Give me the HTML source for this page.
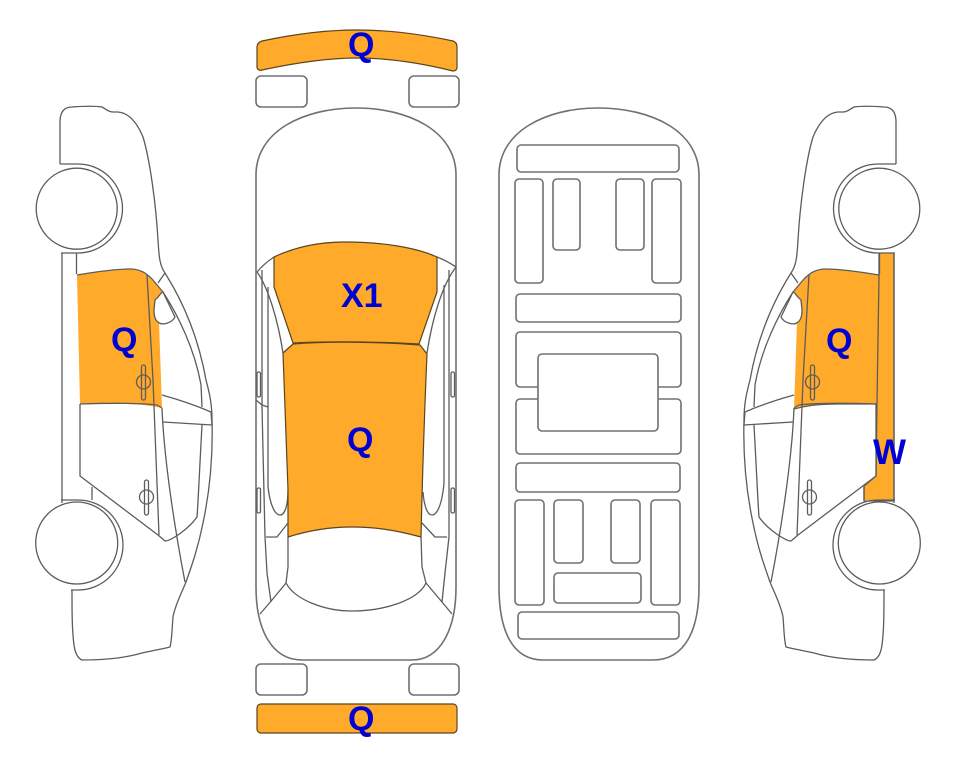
<!DOCTYPE html>
<html><head><meta charset="utf-8"><style>
html,body{margin:0;padding:0;background:#fff;width:963px;height:768px;overflow:hidden}
svg{display:block;filter:blur(0.3px)}
.l{fill:none;stroke:#5c5c5c;stroke-width:1.3;stroke-linejoin:round}
.r{fill:#fff;stroke:#707070;stroke-width:1.6}
.o{fill:#FFAA2B;stroke:#5a4520;stroke-width:1.2}
.f{fill:#FFAA2B;stroke:none}
text{font-family:"Liberation Sans",sans-serif;font-weight:bold;font-size:34px;fill:#0000D2}
</style></head><body>
<svg width="963" height="768" viewBox="0 0 963 768" xmlns="http://www.w3.org/2000/svg">
<defs>
<g id="side">
<path class="l" d="M60 164V122C60 112 64 107 72 107C85 106 95 106 102 107C106 109 108 112 113 112L118 112C130 113 138 125 143 137C150 160 156 205 158 240C159 258 160 266 165 273C182 300 198 335 206 380C210 395 212 405 212 420C213 455 210 490 203 523C198 548 192 565 186 582C182 592 175 605 173 617C172 628 172 640 170 647C158 650 150 651 142 653C125 658 105 660 82 660C77 658 75 652 74 645C72 630 72 612 72 590"/>
<path class="l" d="M60 164H78A44.500 44.500 0 0 1 78 253H61"/>
<circle class="l" style="fill:#fff" cx="76.700" cy="208.700" r="40.500"/>
<path class="l" d="M62 253V503M76.500 253V274"/>
<path class="l" d="M61 500H78A45 45 0 0 1 78 590H71"/>
<circle class="l" style="fill:#fff" cx="76.700" cy="543" r="41"/>
<path class="l" d="M92 487V500"/>
<path class="l" d="M77 275C95 272 115 269 130 269C140 269 146 273 152 279L163 292"/>
<path class="l" d="M80 404V476L158 535L165 541C170 541 188 530 197 517C198 505 199 480 202 425"/>
<path class="l" d="M147 275L153 380L159 535"/>
<path class="l" d="M80 404C110 403 140 403 157 405L162 408"/>
<path class="l" d="M165 273L158 283M163 292C178 315 195 350 201 385L202 407"/>
<path class="l" d="M162 395C180 400 195 405 211 412L212 425L163 422"/>
<path class="l" d="M162 408C164 460 175 530 185 582"/>
<path class="l" style="fill:#fff" d="M155 300C160 296 160 293 163 292L175 317C172 323 162 326 158 322C155 320 154 316 154 310Z"/>
<rect class="l" x="141.500" y="365" width="4" height="35" rx="2"/>
<circle class="l" cx="143.500" cy="382" r="7"/>
<rect class="l" x="144.500" y="480" width="4" height="35" rx="2"/>
<circle class="l" cx="146.500" cy="497" r="7"/>
</g>
</defs>

<!-- left car -->
<path class="f" d="M77 275C95 272 115 269 130 269C140 269 150 276 163 292L155 300L154 315L159 322L162 408C140 403 110 403 80 404Z"/>
<use href="#side"/>

<!-- right car -->
<path class="f" d="M879 275C861 272 841 269 826 269C816 269 806 276 793 292L801 300L802 315L797 322L794 409C816 403 846 403 877 404L876 476L864 486V500H894V253H879Z"/>
<use href="#side" transform="translate(956,0) scale(-1,1)"/>
<path class="l" d="M879 253V275L877 404L876 476L864 486V501H894V253M794 409C805 406 816 404 840 404H877"/>

<!-- top view -->
<path class="o" d="M262 41C290 35 325 30 357 30C390 30 425 35 453 41C456 42 457 44 457 47V67C457 70 455 71 453 71C425 64 390 58 357 58C325 58 290 64 262 70C259 71 257 69 257 67V47C257 44 259 42 262 41Z"/>
<rect class="r" x="256" y="76" width="51" height="31" rx="5"/>
<rect class="r" x="409" y="76" width="50" height="31" rx="5"/>
<rect class="r" x="256" y="664" width="51" height="31" rx="5"/>
<rect class="r" x="409" y="664" width="50" height="31" rx="5"/>
<rect class="o" x="257" y="704" width="200" height="29" rx="4"/>
<path class="r" style="fill:#fff" d="M256 175C256 132 302 108 356 108C410 108 456 132 456 175V587C456 630 440 660 412 660H302C272 660 256 630 256 587Z"/>
<path class="l" d="M262 270V407L265 537L267 573L271 602M268 287V487C270 505 275 515 280 515C285 515 288 505 288 490M449 270V537L445 573L442 602M444 285V483C442 505 437 515 432 515C427 515 424 505 423 492"/>
<path class="l" d="M257 272C262 266 268 261 274 257M437 257C445 260 450 263 456 267"/>
<path class="l" d="M257 272C268 287 278 320 283 353M456 267C442 285 432 320 427 353"/>
<path class="o" d="M274 257C295 247 320 242 345 242C380 242 415 247 437 257V292L419 344C380 342 330 341 293 343L274 287Z"/>
<path class="o" d="M283 353L293 344C330 341 380 342 420 345L427 354C425 400 423 450 421 537C395 530 375 527 352 527C330 527 310 530 288 537V490Z"/>
<path class="l" d="M288 537L288 567L286 583C295 600 325 611 352 611C385 611 418 600 426 583L422 567L421 537"/>
<path class="l" d="M286 583L272 600L260 614M426 583L442 602L452 614"/>
<path class="l" d="M266 537H277L288 523M422 523L435 537H447"/>
<path class="l" d="M256 400L262 405L268 407"/>
<rect class="l" x="257" y="372" width="3.500" height="25" rx="1.500"/>
<rect class="l" x="257" y="488" width="3.500" height="25" rx="1.500"/>
<rect class="l" x="451" y="372" width="3.500" height="25" rx="1.500"/>
<rect class="l" x="451" y="488" width="3.500" height="25" rx="1.500"/>

<!-- underside -->
<path class="r" d="M499 175C499 132 545 108 598 108C653 108 699 132 699 175V587C699 630 685 660 653 660H543C512 660 499 630 499 587Z"/>
<rect class="r" x="517" y="145" width="162" height="27" rx="4"/>
<rect class="r" x="515" y="179" width="28" height="104" rx="4"/>
<rect class="r" x="553" y="179" width="27" height="71" rx="4"/>
<rect class="r" x="616" y="179" width="28" height="71" rx="4"/>
<rect class="r" x="652" y="179" width="29" height="104" rx="4"/>
<rect class="r" x="516" y="294" width="165" height="28" rx="4"/>
<rect class="r" x="516" y="332" width="165" height="55" rx="4"/>
<rect class="r" x="516" y="399" width="165" height="55" rx="4"/>
<rect class="r" x="538" y="354" width="120" height="77" rx="4"/>
<rect class="r" x="516" y="463" width="164" height="29" rx="4"/>
<rect class="r" x="515" y="500" width="29" height="105" rx="4"/>
<rect class="r" x="554" y="500" width="29" height="63" rx="4"/>
<rect class="r" x="611" y="500" width="29" height="63" rx="4"/>
<rect class="r" x="651" y="500" width="29" height="105" rx="4"/>
<rect class="r" x="554" y="573" width="87" height="30" rx="4"/>
<rect class="r" x="518" y="612" width="161" height="27" rx="4"/>

<!-- labels -->
<text x="348" y="56">Q</text>
<text x="341" y="307">X1</text>
<text x="347" y="451">Q</text>
<text x="348" y="730">Q</text>
<text x="111" y="351">Q</text>
<text x="826" y="352">Q</text>
<text x="873" y="464" style="font-size:35px">W</text>
</svg>
</body></html>
